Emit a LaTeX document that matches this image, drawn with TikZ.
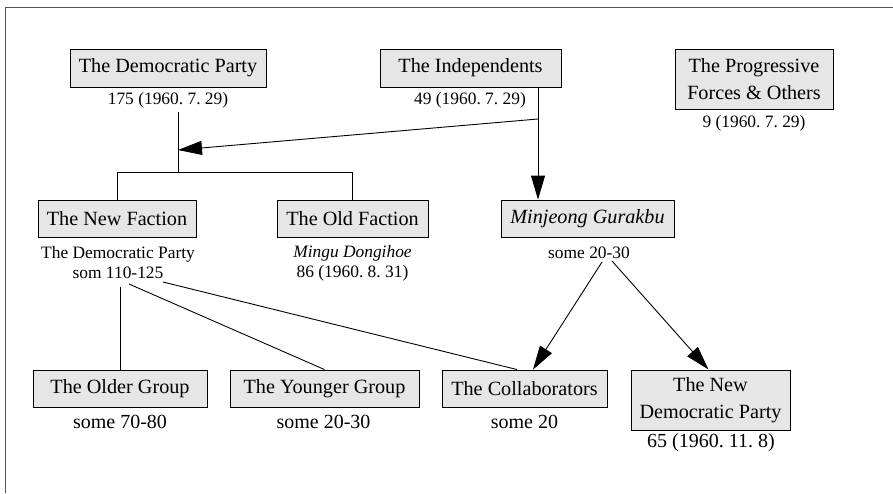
\documentclass[tikz,border=0pt]{standalone}
\usepackage{fontspec}
\setmainfont{Liberation Serif}
\usetikzlibrary{arrows.meta,calc}
\definecolor{boxfill}{HTML}{E6E6E6}
\definecolor{framecol}{HTML}{555555}
\frenchspacing
\begin{document}
\begin{tikzpicture}[x=1pt,y=-1pt,
 box/.style={draw=black, line width=0.9pt, fill=boxfill, inner sep=0pt, align=center, font=\fontsize{20.2}{27}\selectfont},
 lbl/.style={inner sep=0pt, align=center, font=\fontsize{17.4}{20.5}\selectfont},
 lblb/.style={inner sep=0pt, align=center, font=\fontsize{20}{22}\selectfont},
 conn/.style={line width=0.9pt},
 arr/.style={conn, -{Triangle[length=24pt,width=14pt]}}]
\useasboundingbox (0,0) rectangle (893,493);
\draw[framecol, line width=1.3pt] (5.7,493) -- (5.7,7.3) -- (893,7.3);

% boxes
\node[box, minimum width=196pt, minimum height=38pt] (dem) at (168,68) {The Democratic Party};
\node[box, minimum width=181pt, minimum height=38pt] (ind) at (470.5,68) {The Independents};
\node[box, minimum width=158pt, minimum height=60pt] (pro) at (754,79) {The Progressive\\Forces \& Others};
\node[box, minimum width=158pt, minimum height=37pt] (nf) at (117,218.5) {The New Faction};
\node[box, minimum width=151pt, minimum height=37pt] (of) at (352.5,218.5) {The Old Faction};
\node[box, minimum width=173pt, minimum height=37pt] (mj) at (587.5,218.5) {\textit{Minjeong Gurakbu}};
\node[box, minimum width=174pt, minimum height=37pt] (og) at (120,388.5) {The Older Group};
\node[box, minimum width=189pt, minimum height=37pt] (yg) at (324.5,388.5) {The Younger Group};
\node[box, minimum width=165pt, minimum height=37pt] (cb) at (524.5,388.5) {The Collaborators};
\node[box, minimum width=159pt, minimum height=60pt] (nd) at (710.5,400) {The New\\Democratic Party};

% labels
\node[lbl] (dl) at (168,100) {175 (1960. 7. 29)};
\node[lbl] (il) at (470,100) {49 (1960. 7. 29)};
\node[lbl] (pl) at (754,123) {9 (1960. 7. 29)};
\node[lbl] (nfl) at (118,262.5) {The Democratic Party\\som 110-125};
\node[lbl] (ofl) at (352.5,263.5) {\textit{Mingu Dongihoe}\\86 (1960. 8. 31)};
\node[lbl] (mjl) at (589,253) {some 20-30};
\node[lblb] (ogl) at (120,422) {some 70-80};
\node[lblb] (ygl) at (323.5,422) {some 20-30};
\node[lblb] (cbl) at (524.5,422) {some 20};
\node[lblb] (ndl) at (711,443) {65 (1960. 11. 8)};

% junction coordinates
\coordinate (d0) at (178,112);
\coordinate (j1) at (178,172);
\coordinate (j2) at (178,150);
\coordinate (br) at (538,119);
\coordinate (n1) at (120,287);
\coordinate (n2) at (129,284);
\coordinate (n3) at (163,282);
\coordinate (m1) at (602,262);
\coordinate (m2) at (612,261);

% connectors
\draw[conn] (d0) -- (j1);
\draw[conn] (nf.north) -- (nf.north |- j1) -- (of.north |- j1) -- (of.north);
\draw[arr] (br) -- (j2);
\draw[arr] (ind.south -| br) -- (mj.north -| br);
\draw[conn] (n1) -- (og.north);
\draw[conn] (n2) -- (yg.north);
\draw[conn] (n3) -- ($(cb.north)+(-7.5,0)$);
\draw[arr] (m1) -- ($(cb.north)+(8.5,0)$);
\draw[arr] (m2) -- ($(nd.north)+(-2,0)$);
\end{tikzpicture}
\end{document}
